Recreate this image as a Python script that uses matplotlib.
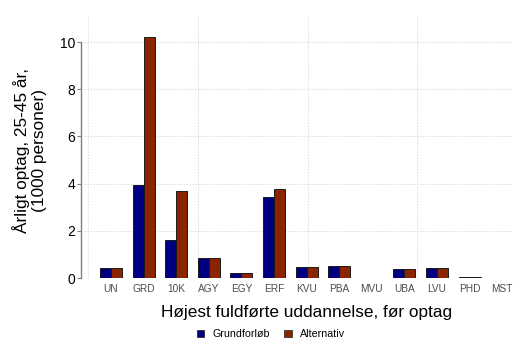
import matplotlib
matplotlib.use("Agg")
import matplotlib.pyplot as plt
from matplotlib.patches import Patch
import numpy as np

plt.rcParams["font.family"] = ["Liberation Sans", "DejaVu Sans"]

NAVY, RUST = "#000080", "#8B2500"
AXIS, GRID, TXT = "#808080", "#DDDDDD", "#4D4D4D"

categories = ["UN", "GRD", "10K", "AGY", "EGY", "ERF", "KVU", "PBA",
              "MVU", "UBA", "LVU", "PHD", "MST"]
grundforloeb = [0.41, 3.95, 1.60, 0.83, 0.22, 3.42, 0.45, 0.51,
                0.01, 0.37, 0.42, 0.04, 0.01]
alternativ = [0.41, 10.20, 3.67, 0.83, 0.22, 3.77, 0.45, 0.51,
              0.01, 0.37, 0.42, 0.04, 0.01]
y_ticks = [0, 2, 4, 6, 8, 10]

fig = plt.figure(figsize=(5.13, 3.40), dpi=100)
ax = fig.add_axes([84 / 513, 1 - 278 / 340, 429 / 513, (278 - 17) / 340])

x = np.arange(len(categories))
w = 0.337
ax.bar(x - w / 2, grundforloeb, w, color=NAVY, edgecolor="#1a1a1a", lw=0.7, zorder=3)
ax.bar(x + w / 2, alternativ, w, color=RUST, edgecolor="#1a1a1a", lw=0.7, zorder=3)

ax.set_xlim(-0.83, 12.33)
ax.set_ylim(0, 11.06)
ax.set_xticks(x)
ax.set_xticklabels(categories, fontsize=7.3, color=TXT)
ax.set_xticks([-0.7, 2.67, 6.03, 9.39], minor=True)
ax.set_yticks(y_ticks)
ax.set_yticklabels([str(t) for t in y_ticks], fontsize=7.3, color=TXT)
ax.tick_params(axis="x", which="both", length=0, pad=4)
ax.tick_params(axis="y", length=3, color=AXIS, width=0.8, pad=1.5)

ax.set_axisbelow(True)
ax.yaxis.grid(True, color=GRID, lw=0.7, ls=(0, (1.5, 1.5)))
ax.xaxis.grid(True, which="minor", color=GRID, lw=0.7, ls=(0, (1.5, 1.5)))
for s in ("top", "right", "bottom"):
    ax.spines[s].set_visible(False)
ax.spines["left"].set_bounds(0, 10)
ax.spines["left"].set_color(AXIS)
ax.spines["left"].set_linewidth(1.0)
ax.spines["left"].set_position(("outward", 2))

ax.set_ylabel("Årligt optag, 25-45 år,\n(1000 personer)", fontsize=12.4,
              color="black", linespacing=1.15)
ax.yaxis.set_label_coords((47 - 84) / 429, 0.49)
ax.set_xlabel("Højest fuldførte uddannelse, før optag", fontsize=12.4,
              color="black")
ax.xaxis.set_label_coords((307 - 84) / 429, -(312 - 278) / 261)
ax.xaxis.label.set_va("center")

handles = [Patch(facecolor=NAVY, edgecolor="#1a1a1a", lw=0.5, label="Grundforløb"),
           Patch(facecolor=RUST, edgecolor="#1a1a1a", lw=0.5, label="Alternativ")]
fig.legend(handles=handles, loc="center", bbox_to_anchor=(271 / 513, 1 - 334 / 340),
           ncol=2, frameon=False, fontsize=7.7, handlelength=0.7, handleheight=0.7,
           handletextpad=0.8, columnspacing=1.3, borderpad=0.1)

fig.savefig("out.png", dpi=100, facecolor="white")
